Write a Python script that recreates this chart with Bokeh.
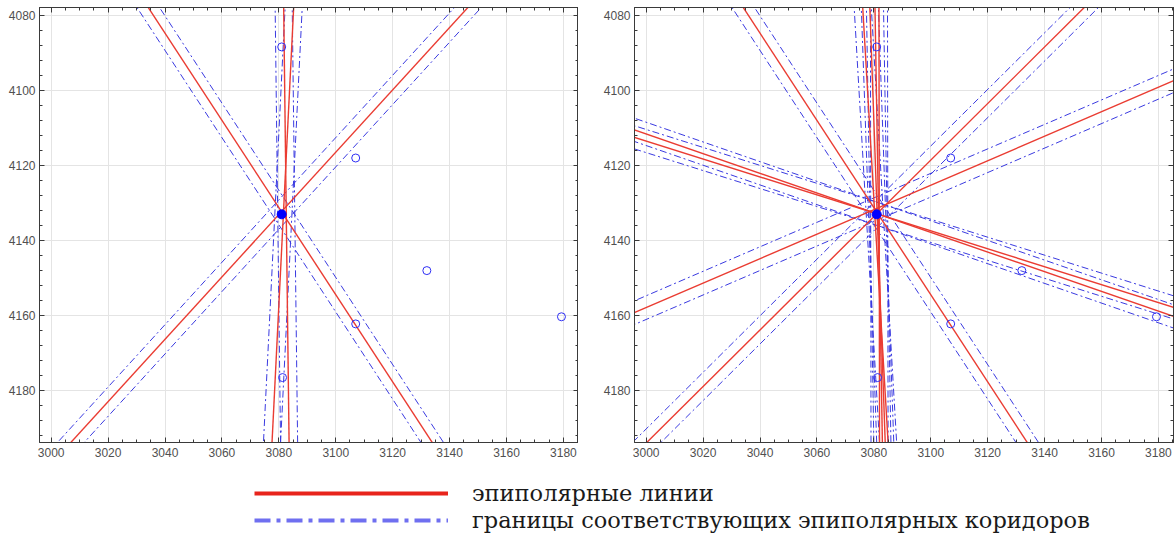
import numpy as np
from bokeh.plotting import figure
from bokeh.models import (Range1d, Legend, LegendItem, SingleIntervalTicker,
                          LinearAxis, FixedTicker)
from bokeh.layouts import column, row
from bokeh.embed import file_html
from bokeh.resources import INLINE

# ---------------- data ----------------
# epipolar lines, each given by two points (x1, y1) -> (x2, y2) in image coordinates
left_x1 = [3034.2, 3146.3, 3085.2, 3081.7]
left_y1 = [4078.0, 4078.0, 4078.0, 4078.0]
left_x2 = [3133.9, 3006.9, 3077.6, 3083.6]
left_y2 = [4193.8, 4193.8, 4193.8, 4193.8]

right_x1 = [3034.2, 3153.8, 2995.9, 2995.9, 2995.9, 3076.1, 3078.6, 3080.4, 3081.8]
right_y1 = [4078.0, 4078.0, 4110.5, 4112.5, 4159.2, 4078.0, 4078.0, 4078.0, 4078.0]
right_x2 = [3133.9, 3000.2, 3185.7, 3185.7, 3185.7, 3085.0, 3084.0, 3083.0, 3082.0]
right_y2 = [4193.8, 4193.8, 4160.3, 4157.9, 4097.3, 4193.8, 4193.8, 4193.8, 4193.8]

corridor_half_width = 3.0   # half width of epipolar corridor (image px)

# candidate points (hollow circles) and the reference point (filled)
cand_x = [3081.0, 3107.0, 3132.0, 3179.3, 3107.0, 3081.3]
cand_y = [4088.4, 4118.0, 4148.0, 4160.3, 4162.2, 4176.5]
ref_x = [3081.0]
ref_y = [4133.0]

x_ticks_step = 20
y_ticks_step = 20
x_minor_step = 5
y_minor_step = 4
legend_labels = ["эпиполярные линии", "границы соответствующих эпиполярных коридоров"]

# ---------------- styles ----------------
RED = "#ea3c32"
BLUE = "#3a3ae0"
AX = "#3a3a3a"
GRID = "#e4e4e4"


def build_lines(x1, y1, x2, y2, w):
    reds_x, reds_y, blues_x, blues_y = [], [], [], []
    for a, b, c, d in zip(x1, y1, x2, y2):
        p = np.array([a, b], float)
        q = np.array([c, d], float)
        v = q - p
        L = np.hypot(*v)
        n = np.array([-v[1], v[0]]) / L
        s = p - 0.5 * v
        e = q + 0.5 * v
        reds_x.append([s[0], e[0]])
        reds_y.append([s[1], e[1]])
        for sign in (-1, 1):
            blues_x.append([s[0] + sign * w * n[0], e[0] + sign * w * n[0]])
            blues_y.append([s[1] + sign * w * n[1], e[1] + sign * w * n[1]])
    return reds_x, reds_y, blues_x, blues_y


def style_axis(ax):
    ax.major_tick_in = 5
    ax.major_tick_out = 0
    ax.minor_tick_in = 3
    ax.minor_tick_out = 0
    ax.axis_line_color = AX
    ax.major_tick_line_color = AX
    ax.minor_tick_line_color = AX
    ax.major_label_text_font = "Liberation Sans"
    ax.major_label_text_font_size = "12px"
    ax.major_label_text_color = "#505050"


def tick_only_axes(p, side, lo, hi, step, minor_step):
    """Box ticks (no labels) on the top / right edge, as in MATLAB."""
    majors = list(np.arange(lo, hi + 1e-9, step))
    minors = [v for v in np.arange(lo, hi + 1e-9, minor_step) if (v - lo) % step != 0]
    for vals, length in ((majors, 5), (minors, 3)):
        ax = LinearAxis(ticker=FixedTicker(ticks=[], minor_ticks=vals))
        ax.minor_tick_in = length
        ax.minor_tick_out = 0
        ax.major_tick_in = 0
        ax.major_tick_out = 0
        ax.major_label_standoff = 0
        ax.minor_tick_line_color = AX
        ax.axis_line_color = AX
        p.add_layout(ax, side)


def make_panel(x1, y1, x2, y2, frame_w, border_left, border_right):
    p = figure(frame_width=frame_w, frame_height=435,
               x_range=Range1d(2995.9, 2995.9 + frame_w / 2.846),
               y_range=Range1d(4193.8, 4077.9),
               toolbar_location=None, output_backend="svg",
               min_border_left=border_left, min_border_right=border_right,
               min_border_top=7, min_border_bottom=26)
    p.xaxis.ticker = SingleIntervalTicker(interval=x_ticks_step, num_minor_ticks=4)
    p.yaxis.ticker = SingleIntervalTicker(interval=y_ticks_step, num_minor_ticks=5)
    style_axis(p.xaxis[0])
    style_axis(p.yaxis[0])
    tick_only_axes(p, "above", 2980, 3200, x_ticks_step, x_minor_step)
    tick_only_axes(p, "right", 4060, 4200, y_ticks_step, y_minor_step)
    p.xaxis[0].major_label_standoff = 10
    p.yaxis[0].major_label_standoff = 4
    p.xgrid.grid_line_color = GRID
    p.ygrid.grid_line_color = GRID
    p.outline_line_color = AX
    p.outline_line_alpha = 1.0

    rx, ry, bx, by = build_lines(x1, y1, x2, y2, corridor_half_width)
    p.multi_line(bx, by, line_color=BLUE, line_width=1, line_dash="7 3 2 3")
    p.multi_line(rx, ry, line_color=RED, line_width=1.4)
    p.scatter(cand_x, cand_y, size=8, marker="circle", fill_color=None,
              line_color="#2f2ff5", line_width=1)
    p.scatter(ref_x, ref_y, size=9, marker="circle", fill_color="#0000ff",
              line_color="#0000ff")
    return p


p1 = make_panel(left_x1, left_y1, left_x2, left_y2, 539, 39, 0)
p2 = make_panel(right_x1, right_y1, right_x2, right_y2, 539, 56, 3)

p3 = figure(width=1176, height=67, toolbar_location=None, output_backend="svg",
            x_range=Range1d(0, 1), y_range=Range1d(0, 1),
            min_border=0)
p3.axis.visible = False
p3.grid.visible = False
p3.outline_line_color = None
r_red = p3.line([np.nan, np.nan], [np.nan, np.nan], line_color="#e8241c", line_width=4)
r_blue = p3.line([np.nan, np.nan], [np.nan, np.nan], line_color="#6f6ff0", line_width=4,
                 line_dash="16 6 4 6")
legend = Legend(items=[LegendItem(label=legend_labels[0], renderers=[r_red]),
                       LegendItem(label=legend_labels[1], renderers=[r_blue])],
                location=(254, 2), glyph_width=194, glyph_height=20,
                label_standoff=24, label_text_font="DejaVu Serif",
                label_text_font_size="22.5px", label_text_color="#1a1a1a",
                label_height=20, spacing=1, padding=0, margin=0,
                border_line_color=None, background_fill_alpha=0)
p3.add_layout(legend)

layout = column(row(p1, p2), p3)
open("out.html", "w").write(file_html(layout, INLINE))
